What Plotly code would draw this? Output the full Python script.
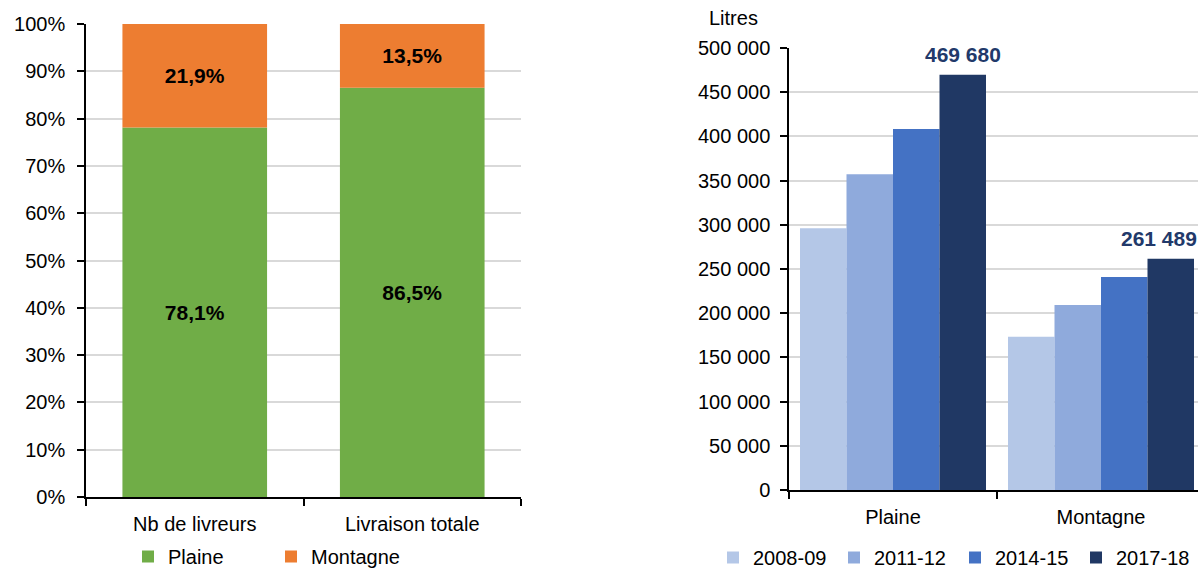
import plotly.graph_objects as go

# ---- data ----
left_categories = ["Nb de livreurs", "Livraison totale"]
plaine_share = [78.1, 86.5]
montagne_share = [21.9, 13.5]

right_categories = ["Plaine", "Montagne"]
years = ["2008-09", "2011-12", "2014-15", "2017-18"]
litres_2008 = [296000, 173400]
litres_2011 = [357100, 209300]
litres_2014 = [408400, 241000]
litres_2017 = [469680, 261489]
right_series = [litres_2008, litres_2011, litres_2014, litres_2017]

W, H = 1198, 569
FONT = "Liberation Sans, Arial, sans-serif"
green, orange = "#70AD47", "#ED7D31"
blues = ["#B4C7E7", "#8FAADC", "#4472C4", "#203864"]
label_blue = "#22396A"


def px(x):
    return x / W


def py(y):
    return 1 - y / H


fig = go.Figure()

for name, vals, col in [("Plaine", plaine_share, green), ("Montagne", montagne_share, orange)]:
    fig.add_trace(go.Bar(
        x=left_categories, y=vals, name=name, marker_color=col,
        marker_line_width=0, xaxis="x", yaxis="y", legend="legend",
        texttemplate="<b>%{y:.1f}%</b>", textposition="inside", insidetextanchor="middle",
        constraintext="none",
        textfont=dict(size=21, color="black", family=FONT), hoverinfo="skip"))

n = len(years)
group_frac = 186 / 208
bar_w = group_frac / n
offsets = [-group_frac / 2 + i * bar_w for i in range(n)]
for i, (yr, vals) in enumerate(zip(years, right_series)):
    fig.add_trace(go.Bar(
        x=right_categories, y=vals, name=yr, marker_color=blues[i],
        marker_line_width=0, xaxis="x2", yaxis="y2", legend="legend2",
        offsetgroup=yr, width=bar_w, offset=offsets[i],
        hoverinfo="skip"))

# data labels for the latest campaign, placed above its bars
annotations = [dict(text="Litres", x=px(733), y=py(18), xref="paper",
                    yref="paper", showarrow=False, xanchor="center",
                    yanchor="middle", font=dict(size=20, family=FONT))]
label_xshift = [0, -12]
for k, (cat, v) in enumerate(zip(right_categories, litres_2017)):
    annotations.append(dict(
        text="<b>" + f"{v:,}".replace(",", " ") + "</b>",
        x=k + offsets[-1] + bar_w / 2, y=v, xref="x2", yref="y2",
        showarrow=False, xanchor="center", yanchor="bottom", yshift=7,
        xshift=label_xshift[k],
        font=dict(size=21, color=label_blue, family=FONT)))

axis_common = dict(showline=True, linecolor="black", linewidth=1.5, automargin=False,
                   ticks="outside", tickcolor="black", ticklen=7, tickwidth=1.5,
                   tickfont=dict(size=20, color="black", family=FONT))

fig.update_layout(
    width=W, height=H,
    margin=dict(l=0, r=0, t=0, b=0, autoexpand=False),
    paper_bgcolor="white", plot_bgcolor="white",
    separators=", ",
    barmode="relative", bargap=0.335,
    font=dict(family=FONT, size=20, color="black"),
    xaxis=dict(domain=[px(86), px(521)], anchor="y", type="category",
               range=[-0.5, 1.5], tickson="boundaries", showgrid=False,
               ticklabelstandoff=8, **axis_common),
    yaxis=dict(domain=[py(497), py(24)], anchor="x", range=[0, 100],
               dtick=10, ticksuffix="%", showgrid=True, gridcolor="#D9D9D9",
               gridwidth=1.5, ticklabelstandoff=8, **axis_common),
    xaxis2=dict(domain=[px(789), 1.0], anchor="y2", type="category",
                range=[-0.5, -0.5 + (1198 - 789) / 208], tickson="boundaries",
                showgrid=False, ticklabelstandoff=8, **axis_common),
    yaxis2=dict(domain=[py(490), py(48)], anchor="x2", range=[0, 500000],
                dtick=50000, tickformat=",d", showgrid=True, gridcolor="#D9D9D9",
                gridwidth=1.5, ticklabelstandoff=6, **axis_common),
    legend=dict(orientation="h", x=px(128), xanchor="left", y=py(537),
                yanchor="top", font=dict(size=20, family=FONT),
                entrywidth=98, entrywidthmode="pixels", bgcolor="rgba(0,0,0,0)"),
    legend2=dict(orientation="h", x=px(713), xanchor="left", y=py(538),
                 yanchor="top", font=dict(size=20, family=FONT),
                 entrywidth=76, entrywidthmode="pixels", bgcolor="rgba(0,0,0,0)"),
    annotations=annotations,
)

fig.write_html(
    "out.html",
    config={"displayModeBar": False},
    post_script="document.body.style.margin='0';document.body.style.overflow='hidden';",
)
